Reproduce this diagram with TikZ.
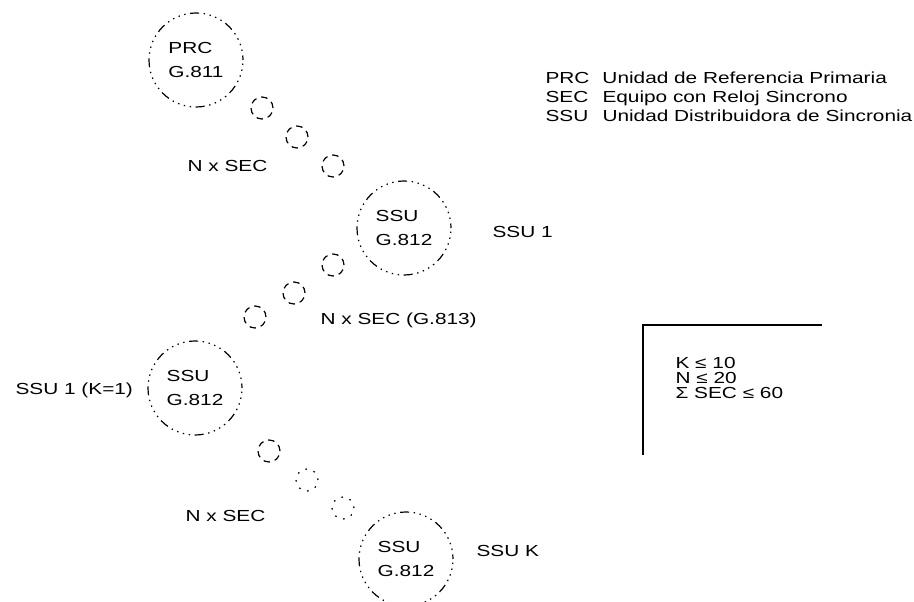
\documentclass[tikz,border=0pt]{standalone}
\usepackage{fontspec}
\setmainfont[FakeStretch=1.3]{Liberation Sans}
\usepackage{tikz}
\usetikzlibrary{positioning}

\begin{document}
\begin{tikzpicture}[x=1pt,y=-1pt,line width=1.2pt,
    unit/.style={circle,draw,minimum size=94pt,inner sep=0pt,align=left,
      dash pattern=on 9pt off 4.6pt on 1.4pt off 4.6pt on 1.4pt off 4.6pt on 1.4pt off 4.6pt on 1.4pt off 4.6pt,
      dash phase=4.5pt,font=\fontsize{16}{24}\selectfont},
    sec/.style={circle,draw,minimum size=22pt,inner sep=0pt,dash pattern=on 6.5pt off 5pt},
    secdot/.style={circle,draw,minimum size=22pt,inner sep=0pt,dash pattern=on 1.6pt off 7pt},
    lbl/.style={inner sep=0pt,font=\fontsize{16}{16}\selectfont}]
  \useasboundingbox (0,0) rectangle (914,602);

  % units
  \node[unit] (prc) at (196,60) {PRC\\G.811};
  \node[unit] (ssua) at (404,228) {SSU\\G.812};
  \node[unit] (ssub) at (195,388) {SSU\\G.812};
  \node[unit] (ssuk) at (406,559) {SSU\\G.812};

  % SEC chains
  \node[sec] (seca) at (262,108) {};
  \node[sec] (secb) at (297,137) {};
  \node[sec] (secc) at (333,166) {};
  \node[sec] (secd) at (333,265) {};
  \node[sec] (sece) at (294,293) {};
  \node[sec] (secf) at (255,317) {};
  \node[sec] (secg) at (269,451) {};
  \node[secdot] (sech) at (307,480) {};
  \node[secdot] (seci) at (343,508) {};

  % labels
  \node[lbl,anchor=east] (nsec1) at (268,166) {N x SEC};
  \node[lbl,anchor=west] (lssua) at (492,232) {SSU 1};
  \node[lbl,anchor=west] (nsec2) at (320,320) {N x SEC (G.813)};
  \node[lbl,anchor=west] (lssub) at (15,390) {SSU 1 (K=1)};
  \node[lbl,anchor=east] (nsec3) at (266,516) {N x SEC};
  \node[lbl,anchor=west] (lssuk) at (476,551) {SSU K};

  % legend
  \node[lbl,anchor=north west,font=\fontsize{16}{19}\selectfont] (legend) at (545,70) {%
    \begin{tabular}{@{}l@{\hspace{13pt}}l@{}}
      PRC & Unidad de Referencia Primaria\\
      SEC & Equipo con Reloj Sincrono\\
      SSU & Unidad Distribuidora de Sincronia
    \end{tabular}};

  % limits
  \draw[solid] (822,325) -- (643,325) -- (643,455);
  \node[lbl,anchor=north west,align=left,font=\fontsize{16}{15}\selectfont] (limits) at (675,357) {K ≤ 10\\N ≤ 20\\Σ SEC ≤ 60};
\end{tikzpicture}
\end{document}
